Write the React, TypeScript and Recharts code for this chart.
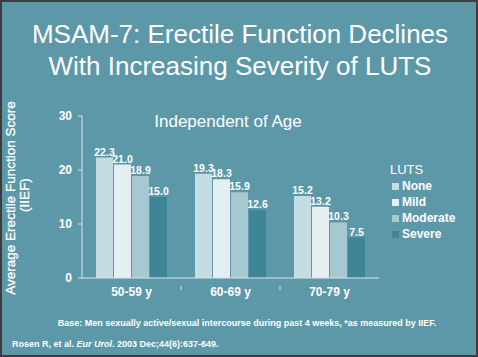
import { BarChart, Bar, XAxis, YAxis, LabelList } from 'recharts'

const ageGroups = ['50-59 y', '60-69 y', '70-79 y']
const noneScores = [22.3, 19.3, 15.2]
const mildScores = [21.0, 18.3, 13.2]
const moderateScores = [18.9, 15.9, 10.3]
const severeScores = [15.0, 12.6, 7.5]
const yTicks = [0, 10, 20, 30]

const series = [
  { key: 'none', name: 'None', color: '#c4dce2' },
  { key: 'mild', name: 'Mild', color: '#e4eff2' },
  { key: 'moderate', name: 'Moderate', color: '#a6c8d0' },
  { key: 'severe', name: 'Severe', color: '#3e8597' },
]

const data = ageGroups.map((age, i) => ({
  age,
  none: noneScores[i],
  mild: mildScores[i],
  moderate: moderateScores[i],
  severe: severeScores[i],
}))

const BG = '#5d98a9'
const AXIS = '#d6e6ea'
const FONT = '"Liberation Sans", Arial, Helvetica, sans-serif'

function AgeTick(props: any) {
  const { x, y, payload, index, width, visibleTicksCount } = props
  const band = width / visibleTicksCount
  return (
    <g>
      {index > 0 && (
        <line x1={x - band / 2} y1={y} x2={x - band / 2} y2={y + 4} stroke={AXIS} strokeWidth={1} />
      )}
      <text
        x={x}
        y={y + 10}
        textAnchor="middle"
        fill="#fff"
        fontSize={12}
        fontWeight="bold"
        fontFamily={FONT}
      >
        {payload.value}
      </text>
    </g>
  )
}

export default function App() {
  return (
    <div
      style={{
        position: 'absolute',
        left: 0,
        top: 0,
        width: 478,
        height: 357,
        background: BG,
        border: '2px solid #3c3c3c',
        boxSizing: 'border-box',
        fontFamily: FONT,
        color: '#fff',
        overflow: 'hidden',
      }}
    >
      <div
        style={{
          position: 'absolute',
          left: 0,
          top: 16,
          width: 476,
          textAlign: 'center',
          fontSize: 26,
          lineHeight: '32px',
        }}
      >
        MSAM-7: Erectile Function Declines
        <br />
        With Increasing Severity of LUTS
      </div>

      <div style={{ position: 'absolute', left: -2, top: -2 }}>
        <BarChart
          width={478}
          height={357}
          data={data}
          margin={{ top: 116, right: 99, bottom: 49, left: 60 }}
          barCategoryGap={14}
          barGap={1}
        >
          <XAxis
            dataKey="age"
            height={30}
            tick={<AgeTick />}
            tickLine={false}
            axisLine={{ stroke: AXIS }}
            interval={0}
          />
          <YAxis
            domain={[0, 30]}
            ticks={yTicks}
            width={22}
            tickSize={4}
            tickMargin={6}
            tickLine={{ stroke: AXIS }}
            axisLine={{ stroke: AXIS }}
            tick={{ fill: '#fff', fontSize: 12, fontWeight: 'bold', fontFamily: FONT }}
          />
          {series.map((s) => (
            <Bar key={s.key} dataKey={s.key} name={s.name} fill={s.color} isAnimationActive={false}>
              <LabelList
                dataKey={s.key}
                position="top"
                offset={2}
                formatter={(v: any) => Number(v).toFixed(1)}
                style={{ fill: '#fff', fontSize: 10.5, fontWeight: 'bold', fontFamily: FONT }}
              />
            </Bar>
          ))}
          <text
            x={228}
            y={127}
            textAnchor="middle"
            fill="#fff"
            fontSize={17}
            fontFamily={FONT}
          >
            Independent of Age
          </text>
          <text
            transform="translate(15,198) rotate(-90)"
            textAnchor="middle"
            fill="#fff"
            fontSize={13.5}
            fontFamily={FONT}
            stroke="#fff"
            strokeWidth={0.3}
          >
            Average Erectile Function Score
          </text>
          <text
            transform="translate(29,195) rotate(-90)"
            textAnchor="middle"
            fill="#fff"
            fontSize={13.5}
            fontFamily={FONT}
            stroke="#fff"
            strokeWidth={0.3}
          >
            (IIEF)
          </text>
        </BarChart>
      </div>

      <div style={{ position: 'absolute', left: 388, top: 160 }}>
        <div style={{ fontSize: 13, lineHeight: '16px', marginBottom: 0 }}>LUTS</div>
        {series.map((s) => (
          <div
            key={s.key}
            style={{ display: 'flex', alignItems: 'center', height: 16, fontSize: 12, fontWeight: 'bold' }}
          >
            <span
              style={{ width: 7, height: 7, background: s.color, marginLeft: 2, marginRight: 3, display: 'inline-block' }}
            />
            {s.name}
          </div>
        ))}
      </div>

      <div
        style={{
          position: 'absolute',
          left: 0,
          top: 316,
          width: 490,
          textAlign: 'center',
          fontSize: 9,
          fontWeight: 'bold',
        }}
      >
        Base: Men sexually active/sexual intercourse during past 4 weeks, *as measured by IIEF.
      </div>
      <div style={{ position: 'absolute', left: 10, top: 337, fontSize: 9, fontWeight: 'bold' }}>
        Rosen R, et al. <i>Eur Urol</i>. 2003 Dec;44(6):637-649.
      </div>
    </div>
  )
}
